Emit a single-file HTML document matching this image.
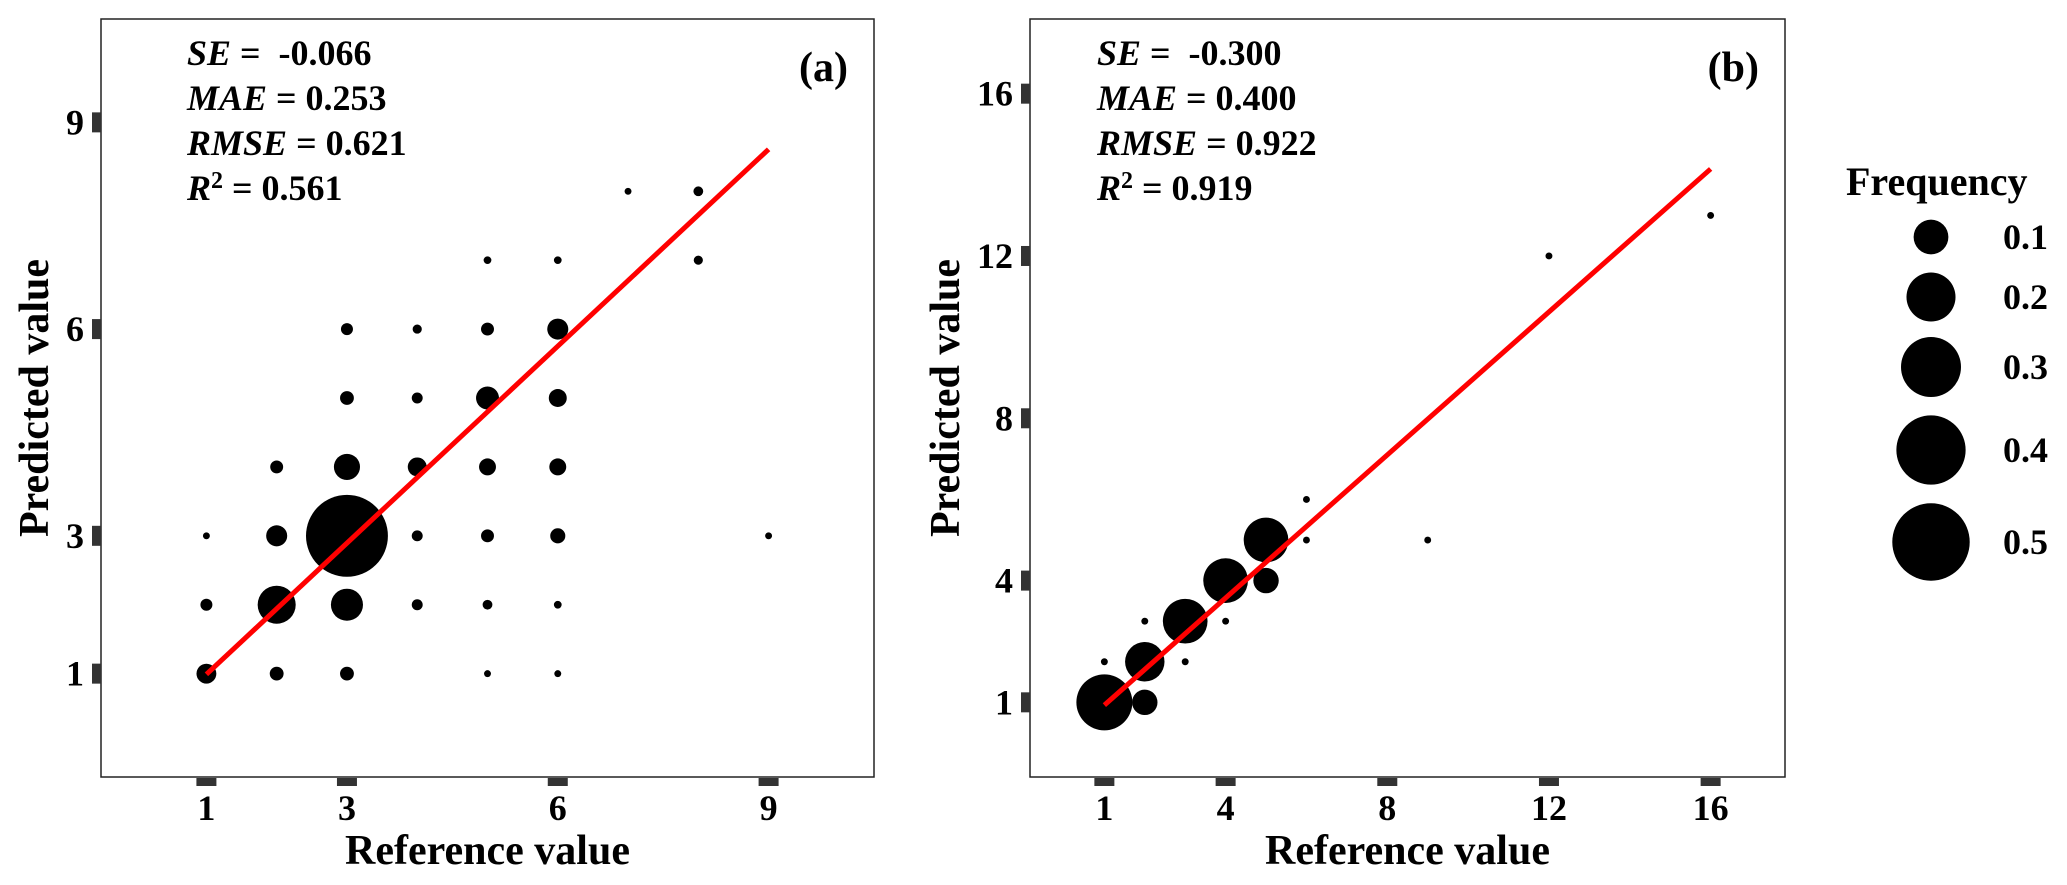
<!DOCTYPE html>
<html><head><meta charset="utf-8">
<style>
html,body{margin:0;padding:0;background:#fff;}
svg{display:block;font-family:"Liberation Serif",serif;font-weight:bold;}
</style></head>
<body>
<svg id="chart" width="2067" height="885" viewBox="0 0 2067 885" xmlns="http://www.w3.org/2000/svg">
<g id="pa"></g>
<g id="pb"></g>
<g id="legend"></g>
</svg>
<script>
// Panel (a) data
const aX = [1,2,3,5,6, 1,2,3,4,5,6, 1,2,3,4,5,6, 2,3,4,5,6, 3,4,5,6, 3,4,5,6, 5,6, 7,8, 8, 9];
const aY = [1,1,1,1,1, 2,2,2,2,2,2, 3,3,3,3,3,3, 4,4,4,4,4, 5,5,5,5, 6,6,6,6, 7,7, 8,8, 7, 3];
const aF = [0.032,0.015,0.015,0.003,0.003, 0.011,0.12,0.085,0.009,0.007,0.004, 0.003,0.036,0.56,0.009,0.013,0.018, 0.013,0.056,0.029,0.023,0.023, 0.015,0.009,0.043,0.026, 0.011,0.006,0.013,0.036, 0.004,0.004, 0.003,0.007, 0.006, 0.003];
const aTicks = [1,3,6,9];
const aFit = [0.037, 0.9525]; // intercept, slope
const aStats = ["-0.066","0.253","0.621","0.561"];
// Panel (b) data
const bX = [1,2, 1,2,3, 2,3,4, 4,5, 5,6, 6, 9, 12, 16];
const bY = [1,1, 2,2,2, 3,3,3, 4,4, 5,5, 6, 5, 12, 13];
const bF = [0.261,0.053, 0.003,0.129,0.003, 0.003,0.166,0.003, 0.166,0.053, 0.166,0.003, 0.003, 0.003,0.003,0.003];
const bTicks = [1,4,8,12,16];
const bFit = [0.049, 0.881];
const bStats = ["-0.300","0.400","0.922","0.919"];
// Legend
const legVals = [0.1,0.2,0.3,0.4,0.5];

const NS = "http://www.w3.org/2000/svg";
function mk(tag, attrs, parent, txt){
  const e = document.createElementNS(NS, tag);
  for (const k in attrs) e.setAttribute(k, attrs[k]);
  if (txt !== undefined) e.textContent = txt;
  parent.appendChild(e);
  return e;
}
function rad(f){ return Math.sqrt(Math.max(0, 3 + 2990*f)); }

function panel(g, cfg){
  const sx = v => cfg.L + (v - cfg.lo) / (cfg.hi - cfg.lo) * (cfg.R - cfg.L);
  const sy = v => cfg.B - (v - cfg.lo) / (cfg.hi - cfg.lo) * (cfg.B - cfg.T);
  const frame = mk('rect', {x:cfg.L, y:cfg.T, width:cfg.R-cfg.L, height:cfg.B-cfg.T, fill:'none', stroke:'#222', 'stroke-width':1.5}, g);
  
  
  cfg.ticks.forEach(t => {
    const tx = mk('rect', {x:sx(t)-10, y:cfg.B+1, width:20, height:8, fill:'#333'}, g);
    
    
    const lx = mk('text', {x:sx(t), y:cfg.B+43, 'text-anchor':'middle', 'font-size':36}, g, t);
    
    
    const ty = mk('rect', {x:cfg.L-9, y:sy(t)-10, width:9, height:20, fill:'#333'}, g);
    
    
    const ly = mk('text', {x:cfg.L-17, y:sy(t)+12, 'text-anchor':'end', 'font-size':36}, g, t);
    
    
  });
  cfg.xs.forEach((x, i) => {
    const c = mk('circle', {cx:sx(x), cy:sy(cfg.ys[i]), r:rad(cfg.fs[i]), fill:'#000'}, g);
    
    
  });
  const x0 = cfg.ticks[0], x1 = cfg.ticks[cfg.ticks.length-1];
  const ln = mk('line', {x1:sx(x0), y1:sy(cfg.fit[0]+cfg.fit[1]*x0), x2:sx(x1), y2:sy(cfg.fit[0]+cfg.fit[1]*x1), stroke:'#ff0000', 'stroke-width':5}, g);
  
  
  const names = [['SE',' =\u00a0\u00a0'],['MAE',' = '],['RMSE',' = '],['R','']];
  names.forEach((n, i) => {
    const t = mk('text', {x:cfg.sX, y:65+45*i, 'font-size':36}, g);
    
    
    mk('tspan', {'font-style':'italic'}, t, n[0]);
    if (n[0] === 'R') { mk('tspan', {'font-size':24, dy:-12}, t, '2'); mk('tspan', {dy:12}, t, ' = ' + cfg.stats[i]); }
    else mk('tspan', {}, t, n[1] + cfg.stats[i]);
  });
  const lab = mk('text', {x:cfg.R-26, y:81, 'text-anchor':'end', 'font-size':42}, g, cfg.label);
  
  
  const xt = mk('text', {x:(cfg.L+cfg.R)/2, y:864, 'text-anchor':'middle', 'font-size':42}, g, 'Reference value');
  
  
  const yt = mk('text', {x:0, y:0, 'text-anchor':'middle', 'font-size':42, transform:`translate(${cfg.yT},398) rotate(-90)`}, g, 'Predicted value');
  
  
}

panel(document.getElementById('pa'), {L:101,R:874,T:19,B:777,lo:-0.5,hi:10.5,ticks:aTicks,xs:aX,ys:aY,fs:aF,fit:aFit,stats:aStats,sX:187,label:'(a)',yT:48});
panel(document.getElementById('pb'), {L:1030,R:1785,T:19,B:777,lo:-0.84,hi:17.84,ticks:bTicks,xs:bX,ys:bY,fs:bF,fit:bFit,stats:bStats,sX:1097,label:'(b)',yT:959});

const lg = document.getElementById('legend');
const lt = mk('text', {x:1846, y:195, 'font-size':40}, lg, 'Frequency');


const legY = [237,297,367,450,542];
legVals.forEach((v, i) => {
  const c = mk('circle', {cx:1931, cy:legY[i], r:rad(v), fill:'#000'}, lg);
  
  
  const t = mk('text', {x:2003, y:legY[i]+12, 'font-size':36}, lg, v.toFixed(1));
  
  
});
</script>
</body></html>
